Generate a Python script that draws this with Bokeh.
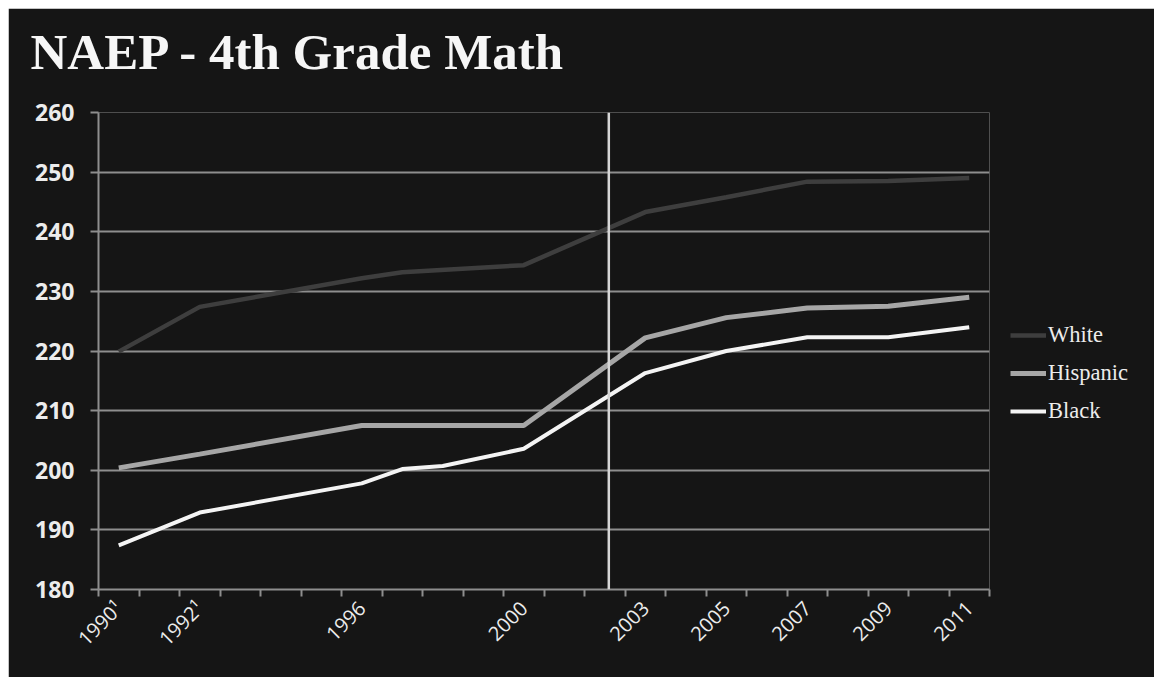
import math
from bokeh.plotting import figure
from bokeh.models import FixedTicker, Span, Legend, LegendItem, Title
from bokeh.embed import file_html
from bokeh.resources import INLINE

# ---- data ----
white_years = [1990, 1992, 1996, 1997, 2000, 2003, 2005, 2007, 2009, 2011]
white = [219.9, 227.4, 232.2, 233.2, 234.4, 243.3, 245.8, 248.4, 248.5, 249.0]

hispanic_years = [1990, 1992, 1996, 2000, 2003, 2005, 2007, 2009, 2011]
hispanic = [200.4, 202.7, 207.5, 207.5, 222.2, 225.6, 227.2, 227.5, 229.0]

black_years = [1990, 1992, 1996, 1997, 1998, 2000, 2003, 2005, 2007, 2009, 2011]
black = [187.4, 192.9, 197.8, 200.2, 200.7, 203.6, 216.3, 220.0, 222.3, 222.3, 224.0]

label_years = [1990, 1992, 1996, 2000, 2003, 2005, 2007, 2009, 2011]
label_texts = ["1990\u00b9", "1992\u00b9", "1996", "2000", "2003", "2005", "2007", "2009", "2011"]
first_year, last_year = 1990, 2011
divider_year = 2002.1
y_ticks = [180, 190, 200, 210, 220, 230, 240, 250, 260]

BG = "#151515"
GRID = "#8e8e8e"
TXT = "#ececec"

p = figure(frame_width=891, frame_height=477, output_backend="svg", toolbar_location=None,
           x_range=(first_year - 0.5, last_year + 0.5), y_range=(180, 260),
           min_border_left=90, min_border_right=157, min_border_top=104, min_border_bottom=88,
           background_fill_color=BG, border_fill_color=BG, outline_line_color=None,
           margin=(8, 0, 0, 8))

# spacer between frame and title, then the title itself
p.add_layout(Title(text=" ", text_font_size="1px", standoff=30, text_color=BG), "above")
p.add_layout(Title(text="NAEP - 4th Grade Math", text_font="Liberation Serif",
                   text_font_style="bold", text_font_size="51px", text_color="#f6f6f6",
                   align="left", offset=-68, standoff=0), "above")

# grid
p.xgrid.grid_line_color = None
p.ygrid.ticker = FixedTicker(ticks=y_ticks)
p.ygrid.grid_line_color = GRID
p.ygrid.grid_line_width = 2

# y axis
ya = p.yaxis[0]
ya.ticker = FixedTicker(ticks=y_ticks)
ya.axis_line_color = GRID
ya.axis_line_width = 2
ya.major_tick_line_color = GRID
ya.major_tick_line_width = 2
ya.major_tick_out = 8
ya.major_tick_in = 0
ya.minor_tick_line_color = None
ya.major_label_text_font = "Open Sans"
ya.major_label_text_font_size = "23px"
ya.major_label_text_font_style = "bold"
ya.major_label_text_color = TXT
ya.major_label_standoff = 16

# x axis: ticks at category boundaries, labels at category centres
xa = p.xaxis[0]
xa.ticker = FixedTicker(ticks=label_years,
                        minor_ticks=[y - 0.5 for y in range(first_year, last_year + 2)])
xa.major_label_overrides = {y: t for y, t in zip(label_years, label_texts)}
xa.axis_line_color = GRID
xa.axis_line_width = 2
xa.major_tick_line_color = None
xa.major_tick_out = 6
xa.minor_tick_line_color = GRID
xa.minor_tick_line_width = 2
xa.minor_tick_out = 7
xa.minor_tick_in = 0
xa.major_label_orientation = math.pi / 4
xa.major_label_text_font = "Open Sans"
xa.major_label_text_font_size = "20px"
xa.major_label_text_color = TXT
xa.major_label_standoff = 8

# divider
p.add_layout(Span(location=divider_year, dimension="height", line_color="#d6d6d6", line_width=2.5))

rw = p.line(white_years, white, line_color="#3e3e3e", line_width=4.5)
rh = p.line(hispanic_years, hispanic, line_color="#a6a6a6", line_width=5)
rb = p.line(black_years, black, line_color="#f4f4f4", line_width=4)

legend = Legend(items=[LegendItem(label="White", renderers=[rw]),
                       LegendItem(label="Hispanic", renderers=[rh]),
                       LegendItem(label="Black", renderers=[rb])],
                location=(21, 165), orientation="vertical",
                background_fill_alpha=0, border_line_color=None,
                padding=0, margin=0, spacing=12,
                glyph_width=36, glyph_height=20, label_height=20,
                label_standoff=2,
                label_text_font="Liberation Serif", label_text_font_size="22.5px",
                label_text_color=TXT)
p.add_layout(legend, "right")

open("out.html", "w").write(file_html(p, INLINE))
